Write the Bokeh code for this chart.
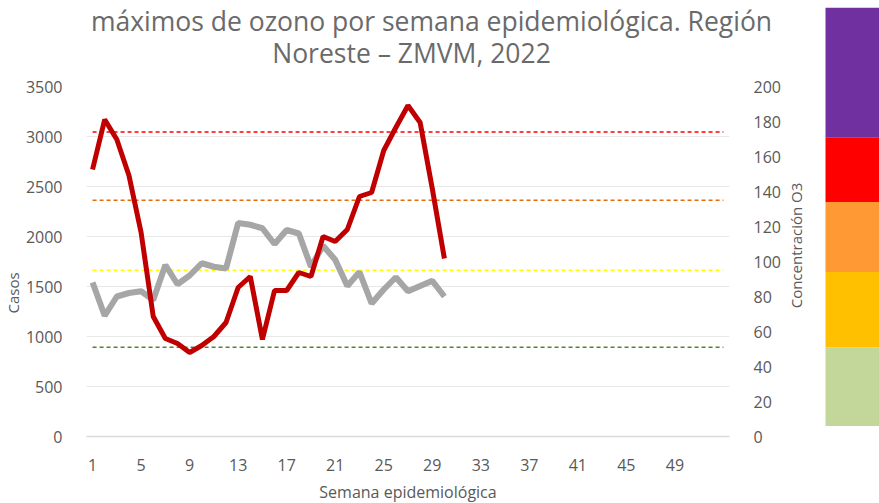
import math
from bokeh.plotting import figure
from bokeh.models import Range1d, LinearAxis, FixedTicker, Title, Label, ColumnDataSource
from bokeh.layouts import row, column
from bokeh.embed import file_html
from bokeh.resources import INLINE

# ---------------- data ----------------
weeks = [1, 2, 3, 4, 5, 6, 7, 8, 9, 10, 11, 12, 13, 14, 15,
         16, 17, 18, 19, 20, 21, 22, 23, 24, 25, 26, 27, 28, 29, 30]
casos = [2670, 3170, 2970, 2610, 2040, 1200, 980, 930, 840, 910, 1000, 1140, 1490, 1600, 970,
         1460, 1460, 1640, 1600, 2000, 1950, 2070, 2400, 2440, 2860, 3090, 3310, 3140, 2480, 1780]
ozono = [88, 69, 80, 82, 83, 78, 98, 87, 92, 99, 97, 96, 122, 121, 119,
         110, 118, 116, 97, 109, 101, 86, 94, 76, 84, 91, 83, 86, 89, 80]

umbrales = [51, 95, 135, 174]
umbral_colores = ["#548235", "#FFFF00", "#E46C0A", "#FF0000"]
umbral_x = [1, 53]

x_ticks = [1, 5, 9, 13, 17, 21, 25, 29, 33, 37, 41, 45, 49]
casos_ticks = [0, 500, 1000, 1500, 2000, 2500, 3000, 3500]
ozono_ticks = [0, 20, 40, 60, 80, 100, 120, 140, 160, 180, 200]

banda_inf = [6, 51, 94, 134, 171]
banda_sup = [51, 94, 134, 171, 245]
banda_colores = ["#C4D79B", "#FFC000", "#FF9933", "#FF0000", "#7030A0"]

title_1 = "máximos de ozono por semana epidemiológica. Región"
title_2 = "Noreste – ZMVM, 2022"
label_x = "Semana epidemiológica"
label_y = "Casos"
label_y2 = "Concentración O3"

FONT = "Open Sans"
TXT = "#595959"
TITLE_TXT = "#6A6A6A"


def no_align(fig):
    if "frame_align" in fig.properties():
        fig.frame_align = False
    fig.outline_line_color = None
    fig.background_fill_color = "white"
    fig.border_fill_color = "white"


# ---------------- title strip (page pixels) ----------------
t = figure(width=780, height=70, min_border=0,
           x_range=Range1d(0, 780), y_range=Range1d(70, 0),
           x_axis_location=None, y_axis_location=None,
           output_backend="svg", toolbar_location=None)
no_align(t)
t.grid.grid_line_color = None
t.add_layout(Label(x=431, y=20, text=title_1, text_align="center", text_baseline="middle",
                   text_font=FONT, text_font_size="26.5px", text_color=TITLE_TXT))
t.add_layout(Label(x=411, y=52, text=title_2, text_align="center", text_baseline="middle",
                   text_font=FONT, text_font_size="26.5px", text_color=TITLE_TXT))

# ---------------- main figure ----------------
p = figure(frame_width=643, frame_height=350,
           min_border_left=84, min_border_right=53, min_border_top=16, min_border_bottom=67,
           x_range=Range1d(0.5, 53.5), y_range=Range1d(0, 3500),
           output_backend="svg", toolbar_location=None)
no_align(p)

p.extra_y_ranges = {"oz": Range1d(0, 200)}
p.add_layout(LinearAxis(y_range_name="oz"), "right")

xa = p.xaxis[0]
xa.ticker = FixedTicker(ticks=x_ticks)
xa.axis_line_color = "#D9D9D9"
xa.axis_line_width = 1.5
xa.major_tick_line_color = None
xa.minor_tick_line_color = None
xa.major_label_standoff = 16
xa.major_label_text_font = FONT
xa.major_label_text_font_size = "16px"
xa.major_label_text_color = TXT
xa.axis_label = label_x
xa.axis_label_text_font = FONT
xa.axis_label_text_font_size = "16px"
xa.axis_label_text_font_style = "normal"
xa.axis_label_text_color = TXT
xa.axis_label_standoff = 7

left = p.yaxis[0]
left.ticker = FixedTicker(ticks=casos_ticks)
right = p.yaxis[1]
right.ticker = FixedTicker(ticks=ozono_ticks)
for ax in (left, right):
    ax.axis_line_color = None
    ax.major_tick_line_color = None
    ax.minor_tick_line_color = None
    ax.major_label_standoff = 18
    ax.major_label_text_font = FONT
    ax.major_label_text_font_size = "16px"
    ax.major_label_text_color = TXT

p.xgrid.grid_line_color = None
p.ygrid.grid_line_color = "#E8E8E8"
p.ygrid.grid_line_width = 1.2
p.ygrid.ticker = FixedTicker(ticks=casos_ticks[1:])

# threshold dashed lines (ozone axis)
for u, c in zip(umbrales, umbral_colores):
    p.line(umbral_x, [u, u], y_range_name="oz", line_color=c, line_width=1.4, line_dash="4 3")

src = ColumnDataSource(dict(w=weeks, casos=casos, oz=ozono))
p.line("w", "oz", source=src, y_range_name="oz", line_color="#A6A6A6", line_width=6)
p.line("w", "casos", source=src, line_color="#C00000", line_width=5)

# left axis title
p.add_layout(Title(text=label_y, align="left", offset=123, standoff=0, text_font=FONT,
                   text_font_size="15px", text_font_style="normal", text_color=TXT), "left")

# ---------------- side strip: right axis title + colour scale ----------------
# y range shares the ozone scale of the main right axis (0 -> page y 436, 1.75 px per unit)
s = figure(width=99, height=503, min_border=0,
           x_range=Range1d(780, 879), y_range=Range1d((436 - 503) / 1.75, 436 / 1.75),
           x_axis_location=None, y_axis_location=None,
           output_backend="svg", toolbar_location=None)
no_align(s)
s.grid.grid_line_color = None
s.quad(left=822, right=879, bottom=banda_inf, top=banda_sup, fill_color=banda_colores, line_color=None)
s.add_layout(Label(x=792, y=(436 - 245) / 1.75, text=label_y2, angle=math.pi / 2,
                   text_align="center", text_baseline="middle",
                   text_font=FONT, text_font_size="15px", text_color=TXT))

layout = row(column(t, p, spacing=0), s, spacing=0)
open("out.html", "w").write(file_html(layout, INLINE))
